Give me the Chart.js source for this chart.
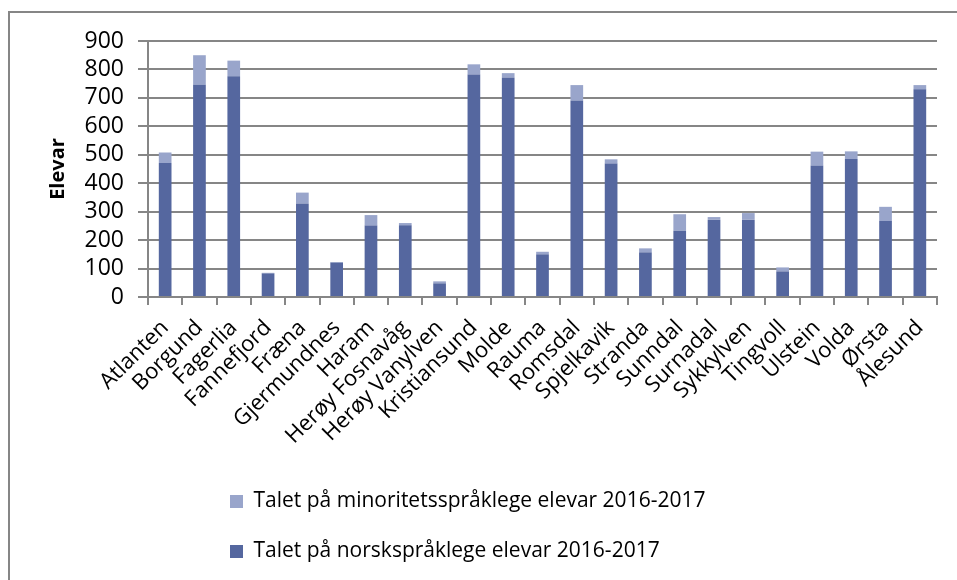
<!DOCTYPE html>
<html>
<head>
<meta charset="utf-8">
<script src="https://cdn.jsdelivr.net/npm/chart.js@4"></script>
<style>
    html, body { margin: 0; padding: 0; background: #fff; }
    #wrap { position: relative; width: 957px; height: 580px; overflow: hidden; }
    #frame { position: absolute; left: 8px; top: 11px; width: 1000px; height: 1000px;
             border-left: 2px solid #868686; border-top: 2px solid #868686; }
    canvas { position: absolute; left: 0; top: 0; }
</style>
</head>
<body>
<div id="wrap">
    <div id="frame"></div>
    <canvas id="elevChart" width="957" height="580"></canvas>
</div>
<script>
const schools = ["Atlanten", "Borgund", "Fagerlia", "Fannefjord", "Fræna", "Gjermundnes",
                 "Haram", "Herøy Fosnavåg", "Herøy Vanylven", "Kristiansund", "Molde", "Rauma",
                 "Romsdal", "Spjelkavik", "Stranda", "Sunndal", "Surnadal", "Sykkylven",
                 "Tingvoll", "Ulstein", "Volda", "Ørsta", "Ålesund"];

const norskElevar    = [471, 746, 776, 83, 329, 121, 251, 252, 48, 782, 772, 150,
                        691, 469, 157, 233, 272, 272, 90, 461, 485, 267, 730];
const minoritetElevar = [37, 104, 55, 2, 38, 2, 37, 8, 7, 36, 15, 9,
                         54, 15, 14, 58, 9, 23, 14, 50, 27, 50, 15];

const yTicks = [0, 100, 200, 300, 400, 500, 600, 700, 800, 900];

const gridGrey = "#868686";
const fontName = "'Open Sans', 'Liberation Sans', sans-serif";

// both legend rows start at the same left edge, as in the original
const legendShift = {
    id: "legendShift",
    afterLayout(chart) {
        if (chart.legend) chart.legend.left = 201;
    }
};

function renderChart() {
    const ctx = document.getElementById("elevChart").getContext("2d");

    new Chart(ctx, {
        type: "bar",
        data: {
            labels: schools,
            datasets: [{
                label: "Talet på norskspråklege elevar 2016-2017",
                data: norskElevar,
                backgroundColor: "#55679f",
                borderWidth: 0
            }, {
                label: "Talet på minoritetsspråklege elevar 2016-2017",
                data: minoritetElevar,
                backgroundColor: "#99a5cb",
                borderWidth: 0
            }]
        },
        options: {
            responsive: false,
            animation: false,
            layout: {
                padding: { left: 31, right: 20, top: 41, bottom: 8 }
            },
            datasets: {
                bar: { categoryPercentage: 1, barPercentage: 0.37 }
            },
            scales: {
                x: {
                    stacked: true,
                    border: { color: gridGrey, width: 2 },
                    grid: {
                        offset: true,
                        drawOnChartArea: false,
                        color: gridGrey,
                        lineWidth: 2,
                        tickLength: 8
                    },
                    ticks: {
                        minRotation: 45,
                        maxRotation: 45,
                        autoSkip: false,
                        padding: 10,
                        color: "#000",
                        font: { family: fontName, size: 22 }
                    },
                    afterFit(scale) {
                        scale.height = 165;
                    }
                },
                y: {
                    stacked: true,
                    min: 0,
                    max: 900,
                    afterBuildTicks(scale) {
                        scale.ticks = yTicks.map(v => ({ value: v }));
                    },
                    afterFit(scale) {
                        scale.width = 117;
                    },
                    border: { color: gridGrey, width: 2 },
                    grid: {
                        color: gridGrey,
                        lineWidth: 2,
                        tickLength: 10
                    },
                    ticks: {
                        autoSkip: false,
                        padding: 14,
                        color: "#000",
                        font: { family: fontName, size: 23 }
                    },
                    title: {
                        display: true,
                        text: "Elevar",
                        color: "#000",
                        padding: 15,
                        font: { family: fontName, size: 20, weight: "bold" }
                    }
                }
            },
            plugins: {
                legend: {
                    position: "bottom",
                    align: "start",
                    reverse: true,
                    labels: {
                        boxWidth: 13,
                        boxHeight: 13,
                        padding: 29,
                        color: "#000",
                        font: { family: fontName, size: 21 }
                    }
                },
                tooltip: { enabled: false }
            }
        },
        plugins: [legendShift]
    });
}
window.addEventListener("load", renderChart);
</script>
</body>
</html>
